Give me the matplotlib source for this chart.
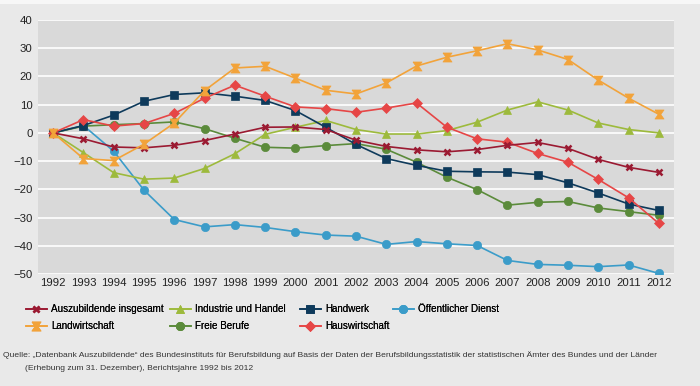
import matplotlib
matplotlib.use("Agg")
import matplotlib.pyplot as plt
from matplotlib.patches import Rectangle

years = list(range(1992, 2013))

insgesamt = [0, -2.1, -5.0, -5.3, -4.4, -2.7, -0.4, 2.0, 2.1, 1.2, -2.6,
             -4.8, -6.0, -6.7, -5.9, -4.4, -3.4, -5.5, -9.4, -12.2, -14.0]
industrie = [0, -7.0, -14.1, -16.4, -16.0, -12.6, -7.4, -0.5, 2.0, 4.4, 1.2,
             -0.4, -0.4, 0.8, 3.8, 8.1, 11.0, 8.1, 3.5, 1.2, 0.0]
handwerk = [0, 2.6, 6.3, 11.2, 13.6, 14.2, 13.0, 11.5, 7.9, 2.0, -4.1,
            -9.1, -11.5, -13.6, -13.8, -13.9, -14.8, -17.7, -21.3, -25.2, -27.5]
oeffentlich = [0, 2.6, -6.5, -20.3, -30.7, -33.3, -32.5, -33.5, -35.0, -36.2, -36.6,
               -39.5, -38.5, -39.3, -39.9, -45.2, -46.6, -46.9, -47.4, -46.8, -49.8]
landwirtschaft = [0, -9.1, -9.8, -4.0, 3.5, 15.0, 23.0, 23.6, 19.4, 15.1, 13.8,
                  17.7, 23.7, 26.8, 29.1, 31.6, 29.4, 26.0, 18.7, 12.3, 6.6]
freie = [0, 2.4, 2.9, 3.3, 3.9, 1.5, -1.9, -5.1, -5.4, -4.5, -3.8,
         -5.8, -10.4, -15.7, -20.1, -25.6, -24.6, -24.3, -26.6, -27.9, -29.2]
hauswirtschaft = [0, 4.7, 2.4, 3.3, 6.9, 12.3, 16.9, 13.0, 9.2, 8.6, 7.3,
                  8.8, 10.6, 2.0, -2.1, -3.3, -7.3, -10.4, -16.5, -23.0, -32.1]

# hourglass marker for Landwirtschaft
hourglass = [(-1, 1), (1, 1), (0.3, 0), (1, -1), (-1, -1), (-0.3, 0), (-1, 1)]

# (label, values, colour, marker, size)
series = [
    ("Auszubildende insgesamt", insgesamt, "#9b1a32", "x", 5),
    ("Landwirtschaft", landwirtschaft, "#f2a33a", hourglass, 6.5),
    ("Industrie und Handel", industrie, "#9dba3c", "^", 6),
    ("Freie Berufe", freie, "#5b8b3b", "o", 6),
    ("Handwerk", handwerk, "#0e3a5b", "s", 5.8),
    ("Hauswirtschaft", hauswirtschaft, "#e64646", "D", 5),
    ("Öffentlicher Dienst", oeffentlich, "#3b9cc9", "o", 6),
]
draw_order = [6, 3, 2, 4, 5, 0, 1]

plt.rcParams["font.family"] = ["Liberation Sans", "DejaVu Sans"]

fig = plt.figure(figsize=(7, 3.86), dpi=100, facecolor="#e9e9e9")
fig.patches.append(Rectangle((0, 1 - 4 / 386), 1, 4 / 386, transform=fig.transFigure,
                             facecolor="#f7f7f7", edgecolor="none"))
ax = fig.add_axes([38 / 700, 1 - 274 / 386, 636 / 700, 254 / 386])
ax.set_facecolor("#d9d9d9")

lines = {}
for i in draw_order:
    label, vals, col, mk, ms = series[i]
    ln, = ax.plot(years, vals, color=col, lw=1.2, marker=mk, markersize=ms,
                  markerfacecolor=col, markeredgecolor=col,
                  markeredgewidth=1.8 if mk == "x" else 0.5, label=label, zorder=3)
    lines[i] = ln

ax.set_xlim(1991.5, 2012.5)
ax.set_ylim(-50, 40)
ax.set_yticks(range(-50, 41, 10))
ax.set_xticks(years)
ax.grid(axis="y", color="white", lw=1.2, zorder=0)
ax.set_axisbelow(True)
for s in ax.spines.values():
    s.set_visible(False)
ax.tick_params(length=0, labelsize=8.2, colors="#222222")
ax.tick_params(axis="x", pad=3)
ax.tick_params(axis="y", pad=4)

# legend, one column at a time like the original
columns = [([0, 1], 26), ([2, 3], 170), ([4, 5], 300), ([6], 393)]
for idx, xpos in columns:
    lg = fig.legend(handles=[lines[i] for i in idx], labels=[series[i][0] for i in idx],
                    loc="upper left", bbox_to_anchor=(xpos / 700, 1 - 304 / 386),
                    frameon=False, fontsize=7.1, borderpad=0, borderaxespad=0,
                    handlelength=2.1, handletextpad=0.45, labelspacing=0.75)
    fig.add_artist(lg)

fig.text(3 / 700, 1 - 355 / 386, "Quelle: „Datenbank Auszubildende“ des Bundesinstituts für Berufsbildung auf Basis der Daten der "
         "Berufsbildungsstatistik der statistischen Ämter des Bundes und der Länder",
         fontsize=6.1, color="#333333", va="center")
fig.text(25 / 700, 1 - 368 / 386, "(Erhebung zum 31. Dezember), Berichtsjahre 1992 bis 2012",
         fontsize=6.1, color="#333333", va="center")

fig.savefig("out.png", dpi=100, facecolor=fig.get_facecolor())
